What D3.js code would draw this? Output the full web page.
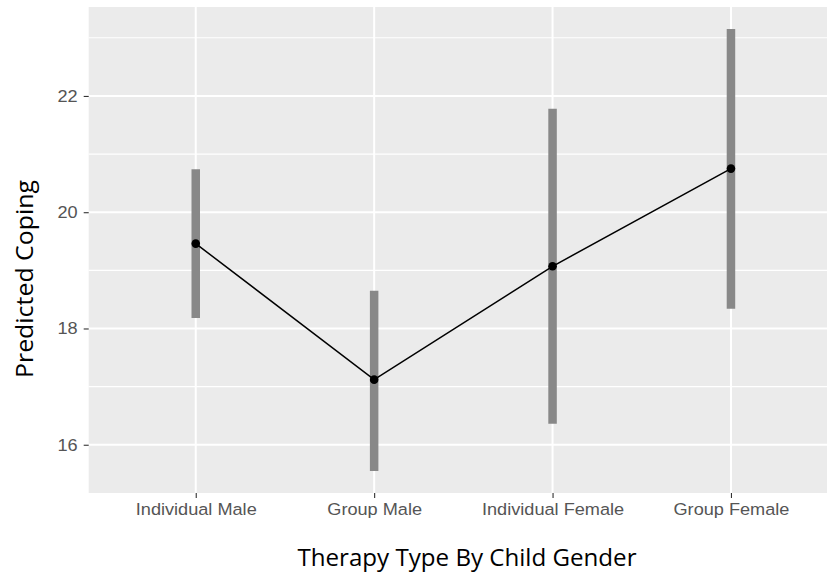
<!DOCTYPE html>
<html>
<head>
<meta charset="utf-8">
<script src="https://cdn.jsdelivr.net/npm/d3@7"></script>
<style>
  html, body { margin: 0; padding: 0; background: #ffffff; }
  svg { display: block; }
</style>
</head>
<body>
<svg id="chart" width="827" height="572"></svg>
<script>
// Predicted coping by therapy type and child gender, with interval bars
const categories = ["Individual Male", "Group Male", "Individual Female", "Group Female"];
const predicted  = [19.46, 17.12, 19.07, 20.75];
const lower      = [18.18, 15.55, 16.36, 18.34];
const upper      = [20.74, 18.65, 21.78, 23.15];
const yTicks     = [16, 18, 20, 22];
const yMinor     = [15, 17, 19, 21, 23];
const xTitle = "Therapy Type By Child Gender";
const yTitle = "Predicted Coping";

const W = 827, H = 572;
const panel = { left: 88.7, top: 7, right: 838, bottom: 493 };

const svg = d3.select("#chart");

// y domain: data span of the interval bars plus 5% each side
const lo = d3.min(lower), hi = d3.max(upper);
const pad = (hi - lo) * 0.05;
const y = d3.scaleLinear().domain([lo - pad, hi + pad]).range([panel.bottom, panel.top]);
const x = d3.scalePoint().domain(categories).range([panel.left, panel.right]).padding(0.6);

// panel background
svg.append("rect")
  .attr("x", panel.left).attr("y", panel.top)
  .attr("width", panel.right - panel.left).attr("height", panel.bottom - panel.top)
  .attr("fill", "#ebebeb");

const grid = svg.append("g");
const [d0, d1] = y.domain();
grid.selectAll("line.minor").data(yMinor.filter(v => v > d0 && v < d1)).enter().append("line")
  .attr("class", "minor")
  .attr("x1", panel.left).attr("x2", panel.right)
  .attr("y1", d => y(d)).attr("y2", d => y(d))
  .attr("stroke", "#ffffff").attr("stroke-width", 1.1);
grid.selectAll("line.hmajor").data(yTicks).enter().append("line")
  .attr("class", "hmajor")
  .attr("x1", panel.left).attr("x2", panel.right)
  .attr("y1", d => y(d)).attr("y2", d => y(d))
  .attr("stroke", "#ffffff").attr("stroke-width", 2);
grid.selectAll("line.vmajor").data(categories).enter().append("line")
  .attr("class", "vmajor")
  .attr("x1", d => x(d)).attr("x2", d => x(d))
  .attr("y1", panel.top).attr("y2", panel.bottom)
  .attr("stroke", "#ffffff").attr("stroke-width", 2);

// interval bars
const rows = categories.map((c, i) => ({ c, p: predicted[i], lo: lower[i], hi: upper[i] }));
svg.append("g").selectAll("line").data(rows).enter().append("line")
  .attr("x1", d => x(d.c)).attr("x2", d => x(d.c))
  .attr("y1", d => y(d.lo)).attr("y2", d => y(d.hi))
  .attr("stroke", "#888888").attr("stroke-width", 8.5);

// connecting line and points
svg.append("path")
  .datum(rows)
  .attr("d", d3.line().x(d => x(d.c)).y(d => y(d.p)))
  .attr("fill", "none").attr("stroke", "#000000").attr("stroke-width", 1.5);
svg.append("g").selectAll("circle").data(rows).enter().append("circle")
  .attr("cx", d => x(d.c)).attr("cy", d => y(d.p)).attr("r", 4.3)
  .attr("fill", "#000000");

// axes
const tickFont = "'Liberation Sans', Arial, sans-serif";
const yAxis = svg.append("g")
  .attr("transform", `translate(${panel.left},0)`)
  .call(d3.axisLeft(y).tickValues(yTicks).tickSize(5).tickPadding(5));
const xAxis = svg.append("g")
  .attr("transform", `translate(0,${panel.bottom})`)
  .call(d3.axisBottom(x).tickSize(5).tickPadding(5));
[yAxis, xAxis].forEach(a => {
  a.select(".domain").remove();
  a.selectAll(".tick line").attr("stroke", "#333333").attr("stroke-width", 1.1);
  a.selectAll(".tick text")
    .attr("fill", "#555555")
    .attr("transform", "scale(1.1,1)")
    .style("font-family", tickFont)
    .style("font-size", "16.5px");
});

// axis titles
const titleFont = "'Open Sans', 'Noto Sans', sans-serif";
svg.append("text")
  .attr("x", 467).attr("y", 566)
  .attr("text-anchor", "middle")
  .attr("textLength", 339).attr("lengthAdjust", "spacingAndGlyphs")
  .style("font-family", titleFont).style("font-size", "24px")
  .attr("fill", "#000000")
  .text(xTitle);
svg.append("text")
  .attr("transform", "translate(33,279) rotate(-90)")
  .attr("text-anchor", "middle")
  .attr("textLength", 198).attr("lengthAdjust", "spacingAndGlyphs")
  .style("font-family", titleFont).style("font-size", "24px")
  .attr("fill", "#000000")
  .text(yTitle);
</script>
</body>
</html>
